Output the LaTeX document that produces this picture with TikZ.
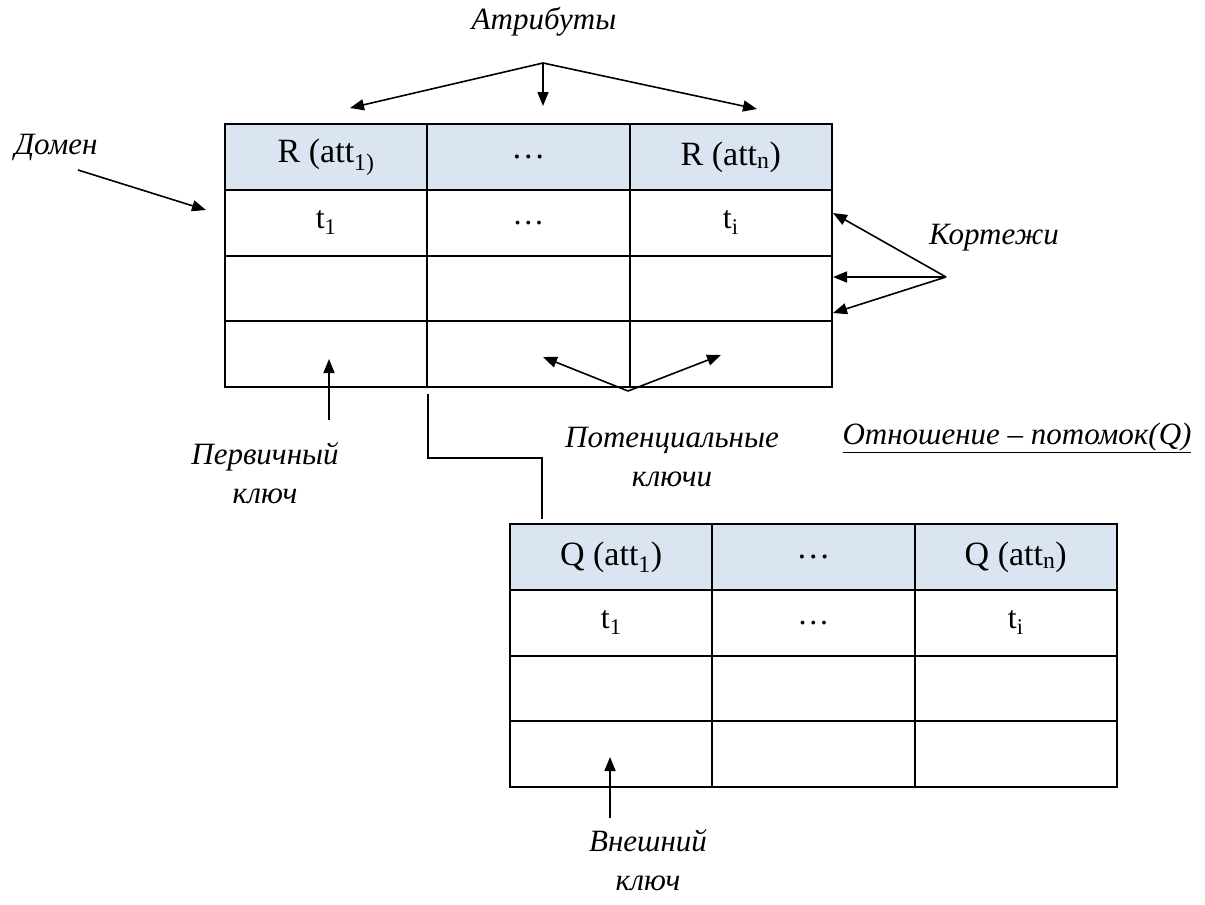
\documentclass[tikz,border=0pt]{standalone}
\usepackage{fontspec}
\setmainfont{Liberation Serif}
\usetikzlibrary{arrows.meta}
\definecolor{hdrfill}{RGB}{219,229,241}
\tikzset{
  cell/.style={draw=black, line width=2pt, minimum width=202.3pt, minimum height=65.8pt,
               inner sep=0pt, anchor=center, font=\fontsize{32}{36}\selectfont},
  hdr/.style={cell, fill=hdrfill, font=\fontsize{34}{38}\selectfont},
  lbl/.style={font=\itshape\fontsize{31}{39}\selectfont, align=center, inner sep=0pt},
  arr/.style={line width=1.6pt, -{Triangle[length=14pt,width=11pt]}},
  link/.style={line width=1.3pt}
}
\begin{document}
\begin{tikzpicture}[x=1pt,y=-1pt]
\useasboundingbox (0,0) rectangle (1205,905);

% ---- relation R (parent) ----
\def\rx{225}\def\ry{124}
\foreach \r/\c/\t in {1/1/{R (att\textsubscript{1)}}, 1/2/{\dots}, 1/3/{R (att\textsubscript{n})}}
  \node[hdr] (R-\r-\c) at ({\rx+(\c-0.5)*202.3},{\ry+(\r-0.5)*65.8}) {\t};
\foreach \r/\c/\t in {2/1/{t\textsubscript{1}}, 2/2/{\dots}, 2/3/{t\textsubscript{i}},
                      3/1/{}, 3/2/{}, 3/3/{}, 4/1/{}, 4/2/{}, 4/3/{}}
  \node[cell] (R-\r-\c) at ({\rx+(\c-0.5)*202.3},{\ry+(\r-0.5)*65.8}) {\t};

% ---- relation Q (child) ----
\def\qx{510}\def\qy{524}
\foreach \r/\c/\t in {1/1/{Q (att\textsubscript{1})}, 1/2/{\dots}, 1/3/{Q (att\textsubscript{n})}}
  \node[hdr] (Q-\r-\c) at ({\qx+(\c-0.5)*202.3},{\qy+(\r-0.5)*65.8}) {\t};
\foreach \r/\c/\t in {2/1/{t\textsubscript{1}}, 2/2/{\dots}, 2/3/{t\textsubscript{i}},
                      3/1/{}, 3/2/{}, 3/3/{}, 4/1/{}, 4/2/{}, 4/3/{}}
  \node[cell] (Q-\r-\c) at ({\qx+(\c-0.5)*202.3},{\qy+(\r-0.5)*65.8}) {\t};

% ---- attributes ----
\node[lbl] (attr) at (544,22) {Атрибуты};
\coordinate (attr-hub) at (543,63);
\coordinate (attr-a) at (350,108);
\coordinate (attr-b) at (543,106);
\coordinate (attr-c) at (757,109);
\draw[arr] (attr-hub) -- (attr-a);
\draw[arr] (attr-hub) -- (attr-b);
\draw[arr] (attr-hub) -- (attr-c);

% ---- domain ----
\node[lbl] (domain) at (56,147) {Домен};
\coordinate (dom-s) at (78,170);
\coordinate (dom-e) at (206,210);
\draw[arr] (dom-s) -- (dom-e);

% ---- tuples ----
\node[lbl] (tuples) at (994,238) {Кортежи};
\coordinate (tup-hub) at (946,277);
\coordinate (tup-a) at (833,213);
\coordinate (tup-b) at (833,277);
\coordinate (tup-c) at (833,313);
\draw[arr] (tup-hub) -- (tup-a);
\draw[arr] (tup-hub) -- (tup-b);
\draw[arr] (tup-hub) -- (tup-c);

% ---- primary key ----
\node[lbl] (pk) at (265,473) {Первичный\\ключ};
\coordinate (pk-s) at (329,420);
\coordinate (pk-e) at (329,359);
\draw[arr] (pk-s) -- (pk-e);

% ---- candidate keys ----
\node[lbl] (ck) at (672,457) {Потенциальные\\ключи};
\coordinate (ck-hub) at (628,391);
\coordinate (ck-a) at (543,357);
\coordinate (ck-b) at (721,355);
\draw[arr] (ck-hub) -- (ck-a);
\draw[arr] (ck-hub) -- (ck-b);

% ---- child relation caption ----
\node[lbl] (child) at (1017,438) {\underline{Отношение – потомок(Q)}};

% ---- link between the relations ----
\coordinate (lnk-s) at (428,394);
\coordinate (lnk-a) at (428,458);
\coordinate (lnk-b) at (542,458);
\coordinate (lnk-e) at (542,519);
\draw[link] (lnk-s) -- (lnk-a) -- (lnk-b) -- (lnk-e);

% ---- foreign key ----
\node[lbl] (fk) at (648,860) {Внешний\\ключ};
\coordinate (fk-s) at (610,818);
\coordinate (fk-e) at (610,757);
\draw[arr] (fk-s) -- (fk-e);
\end{tikzpicture}
\end{document}
